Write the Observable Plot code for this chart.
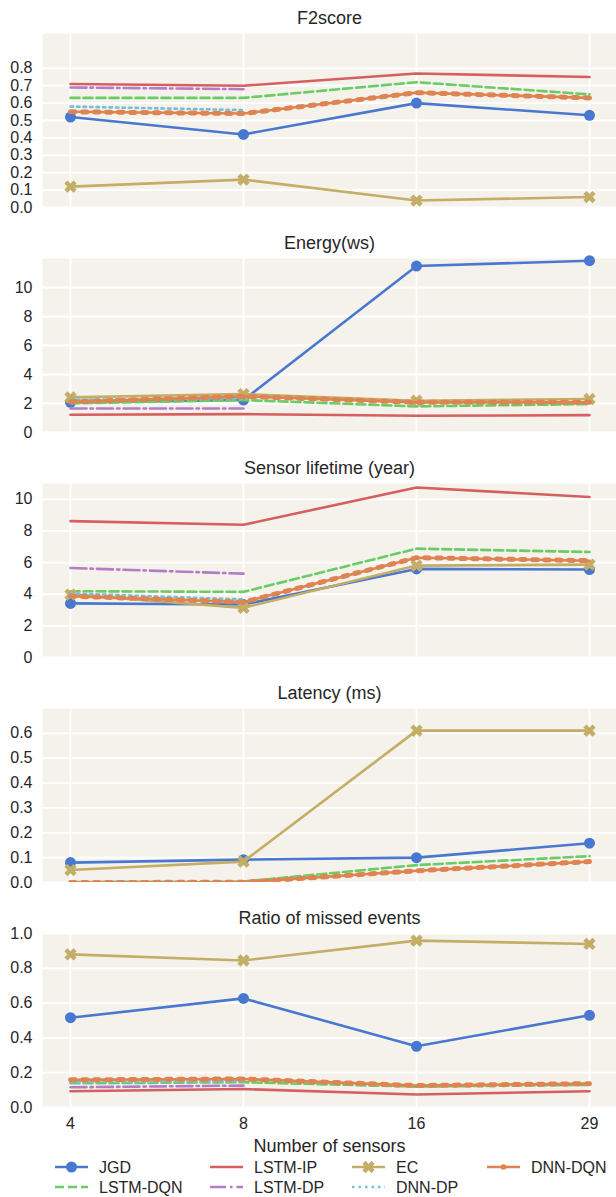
<!DOCTYPE html>
<html>
<head>
<meta charset="utf-8">
<script src="https://cdn.jsdelivr.net/npm/d3@7"></script>
<script src="https://cdn.jsdelivr.net/npm/@observablehq/plot@0.6"></script>
<style>
  body { margin: 0; background: #fff; font-family: "Liberation Sans", Arial, sans-serif; }
  #chart svg { display: block; }
</style>
</head>
<body>
<div id="chart"></div>
<script>
// x categories
const sensors = [4, 8, 16, 29];
// series, in plotting order
const methods = ["JGD", "LSTM-DQN", "LSTM-IP", "LSTM-DP", "EC", "DNN-DP", "DNN-DQN"];

// each metric: one row per method (same order as `methods`), one column per sensor count
const f2score = [
  [0.52, 0.42, 0.60, 0.53],
  [0.63, 0.63, 0.72, 0.65],
  [0.71, 0.70, 0.77, 0.75],
  [0.69, 0.68, null, null],
  [0.12, 0.16, 0.04, 0.06],
  [0.58, 0.56, null, null],
  [0.55, 0.54, 0.66, 0.63]
];
const energy = [
  [2.08, 2.24, 11.48, 11.85],
  [2.00, 2.24, 1.80, 1.96],
  [1.22, 1.27, 1.15, 1.20],
  [1.66, 1.66, null, null],
  [2.42, 2.65, 2.19, 2.31],
  [2.26, 2.36, null, null],
  [2.12, 2.49, 2.08, 2.08]
];
const lifetime = [
  [3.42, 3.35, 5.60, 5.56],
  [4.19, 4.15, 6.88, 6.67],
  [8.62, 8.39, 10.75, 10.15],
  [5.66, 5.30, null, null],
  [3.98, 3.14, 5.81, 5.87],
  [4.05, 3.67, null, null],
  [3.88, 3.50, 6.31, 6.12]
];
const latency = [
  [0.080, 0.092, 0.100, 0.158],
  [0.002, 0.004, 0.070, 0.106],
  [0.001, 0.001, null, null],
  [0.001, 0.001, null, null],
  [0.050, 0.084, 0.611, 0.611],
  [0.001, 0.001, null, null],
  [0.000, 0.001, 0.047, 0.084]
];
const missed = [
  [0.516, 0.627, 0.352, 0.530],
  [0.139, 0.145, 0.120, 0.130],
  [0.093, 0.106, 0.075, 0.093],
  [0.116, 0.126, null, null],
  [0.880, 0.845, 0.959, 0.940],
  [0.147, 0.151, null, null],
  [0.159, 0.164, 0.126, 0.137]
];

const panelTitles = ["F2score", "Energy(ws)", "Sensor lifetime (year)", "Latency (ms)", "Ratio of missed events"];
const panelValues = [f2score, energy, lifetime, latency, missed];
const panelTicks = [
  [0, 0.1, 0.2, 0.3, 0.4, 0.5, 0.6, 0.7, 0.8],
  [0, 2, 4, 6, 8, 10],
  [0, 2, 4, 6, 8, 10],
  [0, 0.1, 0.2, 0.3, 0.4, 0.5, 0.6],
  [0, 0.2, 0.4, 0.6, 0.8, 1.0]
];
const panelMax = [1.0, 12, 11, 0.7, 1.0];
const panelFormat = [".1f", "d", "d", ".1f", ".1f"];

// seaborn "muted"-like colours
const colors = {
  "JGD": "#4878CF",
  "LSTM-DQN": "#6ACC65",
  "LSTM-IP": "#D65F5F",
  "LSTM-DP": "#B47CC7",
  "EC": "#C4AD66",
  "DNN-DP": "#77BEDB",
  "DNN-DQN": "#DD8452"
};
const dashes = {
  "LSTM-DQN": "9,4",
  "LSTM-DP": "16,4,2.5,4",
  "DNN-DP": "2.5,4"
};

// filled "X" marker
const filledX = {
  draw(ctx, size) {
    const r = Math.sqrt(size / Math.PI);
    const a = r * 0.34;
    const pts = [[a, r], [a, a], [r, a], [r, -a], [a, -a], [a, -r], [-a, -r], [-a, -a], [-r, -a], [-r, a], [-a, a], [-a, r]]
      .map(([x, y]) => [(x - y) / Math.SQRT2, (x + y) / Math.SQRT2]);
    ctx.moveTo(pts[0][0], pts[0][1]);
    for (let i = 1; i < pts.length; i++) ctx.lineTo(pts[i][0], pts[i][1]);
    ctx.closePath();
  }
};

const BG = "#f5f2eb";
const LW = 2.6;
const W = 616;

function seriesMarks(rows) {
  const marks = [];
  methods.forEach((m, i) => {
    const data = sensors
      .map((s, j) => ({sensor: s, value: rows[i][j]}))
      .filter(d => d.value != null);
    const c = colors[m];
    marks.push(Plot.line(data, {
      x: "sensor", y: "value", stroke: c, strokeWidth: LW,
      strokeDasharray: dashes[m], clip: "frame"
    }));
    if (m === "JGD") {
      marks.push(Plot.dot(data, {x: "sensor", y: "value", r: 5.5, fill: c, stroke: null}));
    } else if (m === "EC") {
      marks.push(Plot.dot(data, {x: "sensor", y: "value", r: 6.5, symbol: filledX, fill: c, stroke: null}));
    } else if (m === "DNN-DQN") {
      marks.push(Plot.line(data, {
        x: "sensor", y: "value", stroke: c, strokeWidth: 5,
        strokeDasharray: "4.5,7.5", clip: "frame"
      }));
    }
  });
  return marks;
}

const root = document.getElementById("chart");

panelTitles.forEach((title, k) => {
  const last = k === panelTitles.length - 1;
  const marginTop = 33, frameH = 174;
  const marginBottom = last ? 50 : 18;
  const ticks = panelTicks[k];
  const svg = Plot.plot({
    width: W,
    height: marginTop + frameH + marginBottom,
    marginLeft: 42,
    marginRight: 0,
    marginTop,
    marginBottom,
    style: {background: "transparent", fontFamily: "'Liberation Sans', Arial, sans-serif", fontSize: "16px", color: "#262626"},
    x: {type: "point", domain: sensors, padding: 0.15, axis: null},
    y: {domain: [0, panelMax[k]], axis: null},
    marks: [
      Plot.frame({fill: BG, stroke: null}),
      Plot.gridX(sensors, {stroke: "#fff", strokeOpacity: 1, strokeWidth: 1.8}),
      Plot.gridY(ticks, {stroke: "#fff", strokeOpacity: 1, strokeWidth: 1.8}),
      Plot.axisY(ticks, {tickSize: 0, tickPadding: 10, tickFormat: d3.format(panelFormat[k]), label: null, fontSize: 16}),
      ...(last ? [
        Plot.axisX(sensors, {tickSize: 0, tickPadding: 10, label: null, fontSize: 16}),
        Plot.text(["Number of sensors"], {frameAnchor: "bottom", dy: 39, lineAnchor: "middle", fontSize: 18, fill: "#262626"})
      ] : []),
      ...seriesMarks(panelValues[k]),
      Plot.text([title], {frameAnchor: "top", dy: -15, lineAnchor: "middle", fontSize: 18, fill: "#262626"})
    ]
  });
  root.appendChild(svg);
});

// legend: matplotlib-style, 4 columns filled column by column
const legendCells = [
  {m: "JGD", x: 55, row: 0}, {m: "LSTM-DQN", x: 55, row: 1},
  {m: "LSTM-IP", x: 210, row: 0}, {m: "LSTM-DP", x: 210, row: 1},
  {m: "EC", x: 352, row: 0}, {m: "DNN-DP", x: 352, row: 1},
  {m: "DNN-DQN", x: 487, row: 0}
];
const legend = d3.create("svg").attr("width", W).attr("height", 40)
  .style("font-family", "'Liberation Sans', Arial, sans-serif");
legendCells.forEach(({m, x, row}) => {
  const y = 10 + row * 20;
  const c = colors[m];
  const g = legend.append("g");
  g.append("line").attr("x1", x).attr("x2", x + 33).attr("y1", y).attr("y2", y)
    .attr("stroke", c).attr("stroke-width", LW)
    .attr("stroke-dasharray", dashes[m] || null);
  if (m === "JGD") g.append("circle").attr("cx", x + 16.5).attr("cy", y).attr("r", 5.5).attr("fill", c);
  if (m === "EC") g.append("path").attr("transform", `translate(${x + 16.5},${y})`)
    .attr("d", d3.symbol().type(filledX).size(Math.PI * 6.5 * 6.5)()).attr("fill", c);
  if (m === "DNN-DQN") g.append("circle").attr("cx", x + 16.5).attr("cy", y).attr("r", 2.8).attr("fill", c);
  g.append("text").attr("x", x + 44).attr("y", y).attr("dy", "0.35em")
    .attr("font-size", 16).attr("fill", "#262626").text(m);
});
root.appendChild(legend.node());
</script>
</body>
</html>
